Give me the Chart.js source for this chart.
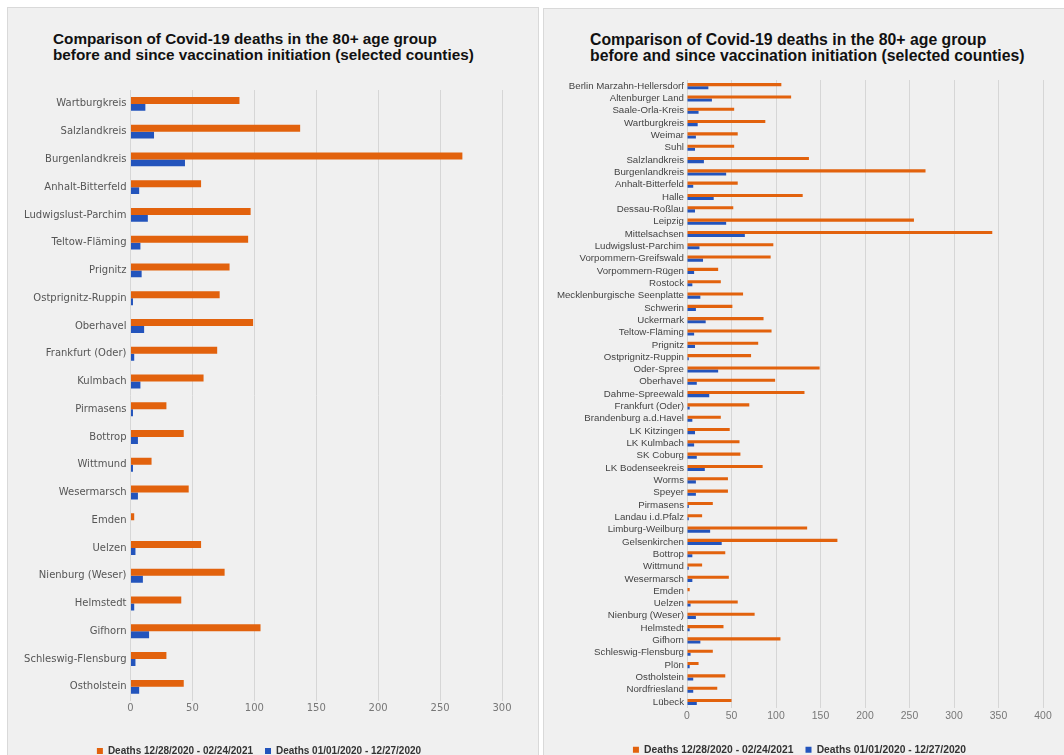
<!DOCTYPE html>
<html lang="en">
  <head>
    <meta charset="UTF-8" />
    <title>Covid-19 deaths 80+ before and since vaccination</title>
    <script src="https://cdn.jsdelivr.net/npm/chart.js"></script>
    <style>
      body {
        margin: 0;
        width: 1064px;
        height: 755px;
        overflow: hidden;
        position: relative;
        background: #fff;
        font-family: "Liberation Sans", Arial, sans-serif;
      }
      .panel {
        position: absolute;
        background: #f0f0f0;
        border: 1px solid #d9d9d9;
        box-sizing: border-box;
      }
      .title {
        position: absolute;
        margin: 0;
        font-weight: bold;
        color: #111;
        white-space: nowrap;
      }
      .box {
        position: absolute;
      }
    </style>
  </head>
  <body>
    <div class="panel" style="left: 7px; top: 7px; width: 532px; height: 760px"></div>
    <div class="panel" style="left: 543px; top: 8px; width: 530px; height: 760px"></div>

    <h2 class="title" style="left: 53px; top: 30.6px; font-size: 15.3px; line-height: 16px">
      Comparison of Covid-19 deaths in the 80+ age group<br />before and since vaccination initiation (selected counties)
    </h2>
    <h2 class="title" style="left: 590px; top: 32px; font-size: 15.8px; line-height: 16.3px">
      Comparison of Covid-19 deaths in the 80+ age group<br />before and since vaccination initiation (selected counties)
    </h2>

    <div class="box" style="left: 7px; top: 80px; width: 515px; height: 686px">
      <canvas id="leftChart"></canvas>
    </div>
    <div class="box" style="left: 543px; top: 70px; width: 520px; height: 695px">
      <canvas id="rightChart"></canvas>
    </div>

    <script>
      const seriesLabels = ["Deaths 12/28/2020 - 02/24/2021", "Deaths 01/01/2020 - 12/27/2020"];

      // selected counties
      const leftCounties = [
        "Wartburgkreis", "Salzlandkreis", "Burgenlandkreis", "Anhalt-Bitterfeld",
        "Ludwigslust-Parchim", "Teltow-Fläming", "Prignitz", "Ostprignitz-Ruppin",
        "Oberhavel", "Frankfurt (Oder)", "Kulmbach", "Pirmasens", "Bottrop",
        "Wittmund", "Wesermarsch", "Emden", "Uelzen", "Nienburg (Weser)",
        "Helmstedt", "Gifhorn", "Schleswig-Flensburg", "Ostholstein"
      ];
      const leftSince = [88, 137, 268, 57, 97, 95, 80, 72, 99, 70, 59, 29, 43, 17, 47, 3, 57, 76, 41, 105, 29, 43];
      const leftBefore = [12, 19, 44, 7, 14, 8, 9, 2, 11, 3, 8, 2, 6, 2, 6, 0, 4, 10, 3, 15, 4, 7];

      // all counties
      const rightCounties = [
        "Berlin Marzahn-Hellersdorf", "Altenburger Land", "Saale-Orla-Kreis", "Wartburgkreis",
        "Weimar", "Suhl", "Salzlandkreis", "Burgenlandkreis", "Anhalt-Bitterfeld", "Halle",
        "Dessau-Roßlau", "Leipzig", "Mittelsachsen", "Ludwigslust-Parchim",
        "Vorpommern-Greifswald", "Vorpommern-Rügen", "Rostock", "Mecklenburgische Seenplatte",
        "Schwerin", "Uckermark", "Teltow-Fläming", "Prignitz", "Ostprignitz-Ruppin",
        "Oder-Spree", "Oberhavel", "Dahme-Spreewald", "Frankfurt (Oder)",
        "Brandenburg a.d.Havel", "LK Kitzingen", "LK Kulmbach", "SK Coburg",
        "LK Bodenseekreis", "Worms", "Speyer", "Pirmasens", "Landau i.d.Pfalz",
        "Limburg-Weilburg", "Gelsenkirchen", "Bottrop", "Wittmund", "Wesermarsch",
        "Emden", "Uelzen", "Nienburg (Weser)", "Helmstedt", "Gifhorn",
        "Schleswig-Flensburg", "Plön", "Ostholstein", "Nordfriesland", "Lübeck"
      ];
      const rightSince = [
        106, 117, 53, 88, 57, 53, 137, 268, 57, 130, 52, 255, 343, 97,
        94, 35, 38, 63, 51, 86, 95, 80, 72, 149, 99, 132, 70,
        38, 48, 59, 60, 85, 46, 46, 29, 17, 135, 169, 43, 17, 47,
        3, 57, 76, 41, 105, 29, 13, 43, 34, 50
      ];
      const rightBefore = [
        24, 28, 13, 12, 10, 9, 19, 44, 7, 30, 9, 44, 65, 14,
        18, 8, 6, 15, 10, 21, 8, 9, 2, 35, 11, 25, 3,
        6, 9, 8, 11, 20, 10, 10, 2, 2, 26, 39, 6, 2, 6,
        0, 4, 10, 3, 15, 4, 3, 7, 7, 11
      ];

      const ORANGE = "#e2620d";
      const BLUE = "#2354bc";

      function drawChart(id, labels, since, before, o) {
        const ctx = document.getElementById(id).getContext("2d");
        return new Chart(ctx, {
          type: "bar",
          data: {
            labels: labels,
            datasets: [
              { label: seriesLabels[0], data: since, backgroundColor: ORANGE },
              { label: seriesLabels[1], data: before, backgroundColor: BLUE },
            ],
          },
          options: {
            indexAxis: "y",
            responsive: true,
            maintainAspectRatio: false,
            animation: false,
            datasets: {
              bar: { categoryPercentage: 0.5, barPercentage: 1.0 },
            },
            layout: { padding: o.padding },
            plugins: {
              tooltip: { enabled: false },
              legend: {
                position: "bottom",
                labels: {
                  boxWidth: 6,
                  boxHeight: 6,
                  padding: 12,
                  color: "#333",
                  font: { family: "Liberation Sans", size: o.legendSize, weight: "bold" },
                },
              },
            },
            scales: {
              x: {
                min: 0,
                max: o.max,
                ticks: {
                  stepSize: 50,
                  padding: 2,
                  color: "#777",
                  font: o.tickFont,
                },
                grid: { color: "#d6d6d6", drawTicks: false },
                border: { display: false },
                afterFit: (scale) => { scale.height = o.xHeight; },
              },
              y: {
                ticks: {
                  padding: o.labelPad,
                  color: o.labelColor,
                  font: o.labelFont,
                  autoSkip: false,
                },
                grid: { display: false, drawTicks: false },
                border: { display: false },
                afterFit: (scale) => { scale.width = o.yWidth; },
              },
            },
          },
        });
      }

      drawChart("leftChart", leftCounties, leftSince, leftBefore, {
        max: 300,
        padding: { left: 9, right: 20, top: 10, bottom: 0 },
        yWidth: 114.5,
        xHeight: 33.3,
        labelPad: 4,
        labelColor: "#555",
        labelFont: { family: "DejaVu Sans", size: 10 },
        tickFont: { family: "DejaVu Sans", size: 10 },
        legendSize: 10,
      });

      drawChart("rightChart", rightCounties, rightSince, rightBefore, {
        max: 400,
        padding: { left: 13, right: 20, top: 10, bottom: 0 },
        yWidth: 131,
        xHeight: 24.5,
        labelPad: 3,
        labelColor: "#444",
        labelFont: { family: "Liberation Sans", size: 9.7 },
        tickFont: { family: "Liberation Sans", size: 10.4 },
        legendSize: 10.3,
      });
    </script>
  </body>
</html>
